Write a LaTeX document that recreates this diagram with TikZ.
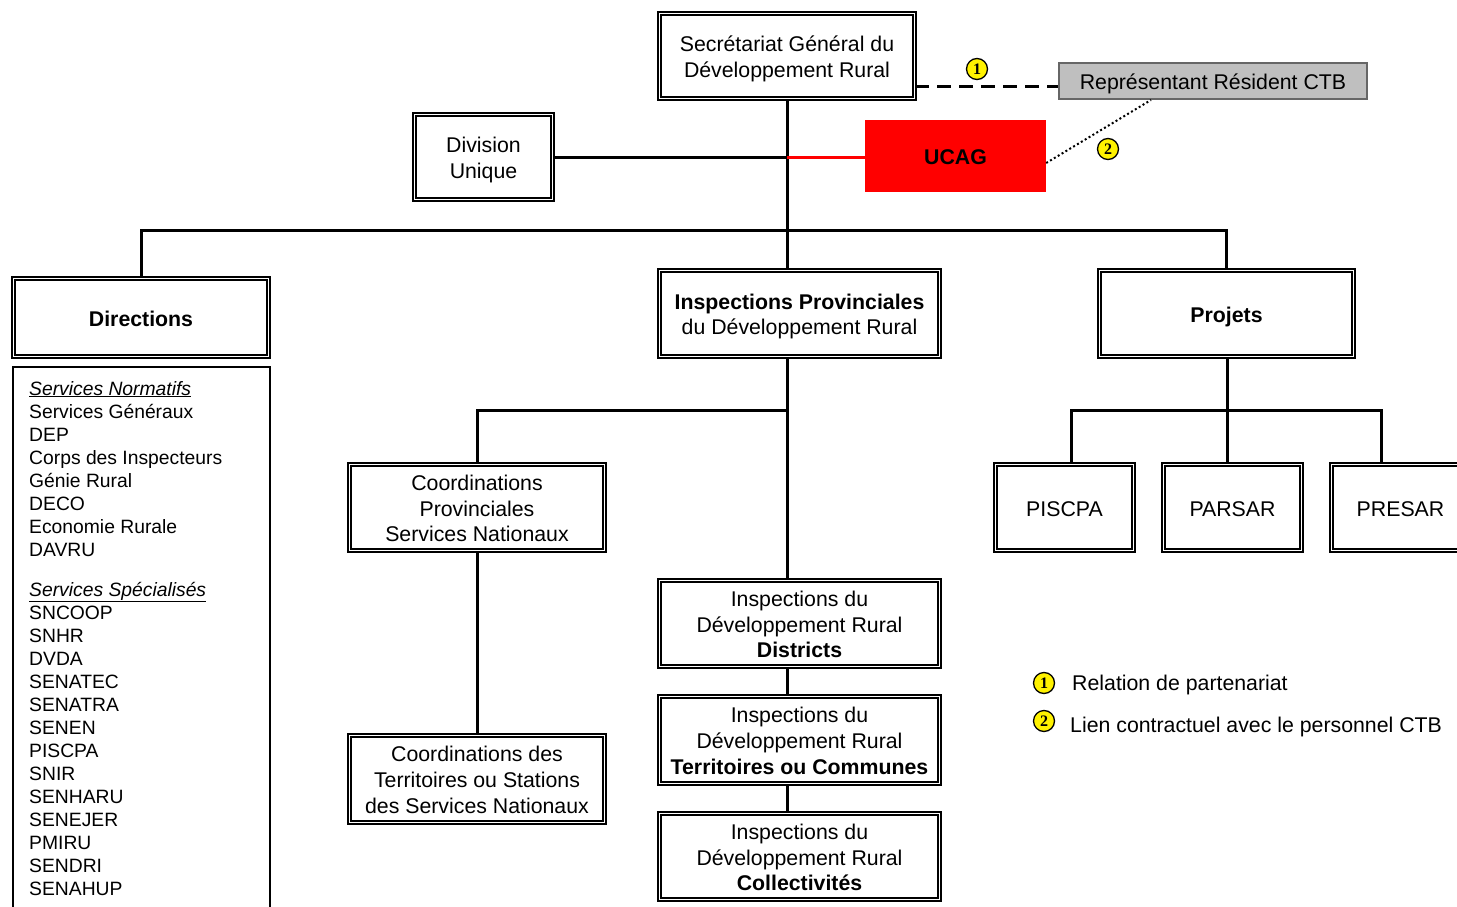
\documentclass[tikz,border=0pt]{standalone}
\usepackage{fontspec}
\usetikzlibrary{calc}
\setmainfont{Liberation Sans}
\newfontfamily\numfont{Liberation Serif}
\newcommand\ml[1]{\raisebox{-3.5pt}[\height][\depth]{\begin{tabular}{@{}c@{}}#1\end{tabular}}}
\begin{document}
\begin{tikzpicture}[x=1pt,y=-1pt,
  font=\fontsize{21.3}{25.7}\selectfont,
  dbox/.style={draw, double=white, double distance=1.8pt, line width=1.6pt, inner sep=0pt},
  conn/.style={line width=3pt},
  num/.style={circle, draw, fill=yellow, line width=1.3pt, minimum size=21pt, inner sep=0pt, font=\numfont\bfseries\fontsize{16}{16}\selectfont},
  lst/.style={anchor=base west, inner sep=0pt, font=\fontsize{19.3}{23}\selectfont}]
\useasboundingbox (0,0) rectangle (1457,907);
% boxes
\node[dbox, minimum width=255pt, minimum height=85pt] (sg) at (787,56) {\ml{Secrétariat Général du\\Développement Rural}};
\node[draw=black!60, fill=black!25, line width=2pt, minimum width=308pt, minimum height=36pt, inner sep=0pt] (rep) at (1213,81) {\ml{Représentant Résident CTB}};
\node[fill=red, minimum width=181pt, minimum height=72pt, inner sep=0pt, font=\fontsize{21.3}{25.7}\selectfont\bfseries] (ucag) at (955.5,156) {\ml{UCAG}};
\node[dbox, minimum width=138pt, minimum height=85pt] (div) at (483.5,157) {\ml{Division\\Unique}};
\node[dbox, minimum width=255pt, minimum height=78pt, font=\fontsize{21.3}{25.7}\selectfont\bfseries] (dir) at (141,317.5) {\ml{Directions}};
\node[dbox, minimum width=280pt, minimum height=86pt] (ip) at (799.5,313.5) {\ml{\textbf{Inspections Provinciales}\\du Développement Rural}};
\node[dbox, minimum width=254pt, minimum height=86pt, font=\fontsize{21.3}{25.7}\selectfont\bfseries] (proj) at (1226.5,313.5) {\ml{Projets}};
\node[dbox, minimum width=255pt, minimum height=86pt] (cp) at (477,507.5) {\ml{Coordinations\\Provinciales\\Services Nationaux}};
\node[dbox, minimum width=255pt, minimum height=87pt] (ct) at (477,779) {\ml{Coordinations des\\Territoires ou Stations\\des Services Nationaux}};
\node[dbox, minimum width=280pt, minimum height=86pt] (dist) at (799.5,623.5) {\ml{Inspections du\\Développement Rural\\\textbf{Districts}}};
\node[dbox, minimum width=280pt, minimum height=87pt] (terr) at (799.5,740) {\ml{Inspections du\\Développement Rural\\\textbf{Territoires ou Communes}}};
\node[dbox, minimum width=280pt, minimum height=86pt] (coll) at (799.5,856.5) {\ml{Inspections du\\Développement Rural\\\textbf{Collectivités}}};
\node[dbox, minimum width=138pt, minimum height=86pt] (piscpa) at (1064.5,507.5) {\ml{PISCPA}};
\node[dbox, minimum width=138pt, minimum height=86pt] (parsar) at (1232.5,507.5) {\ml{PARSAR}};
\node[dbox, minimum width=138pt, minimum height=86pt] (presar) at (1400.5,507.5) {\ml{PRESAR}};
\node[draw, line width=2pt, minimum width=257pt, minimum height=563pt, inner sep=0pt] (lstbox) at (141,648.5) {};
% list
\foreach \t [count=\i] in {{\underline{\textit{Services Normatifs}}},Services Généraux,DEP,Corps des Inspecteurs,Génie Rural,DECO,Economie Rurale,DAVRU}
  \node[lst] (na\i) at (29,{395+23*(\i-1)}) {\t};
\foreach \t [count=\i] in {{\underline{\textit{Services Spécialisés}}},SNCOOP,SNHR,DVDA,SENATEC,SENATRA,SENEN,PISCPA,SNIR,SENHARU,SENEJER,PMIRU,SENDRI,SENAHUP}
  \node[lst] (nb\i) at (29,{596+23*(\i-1)}) {\t};
% connectors
\coordinate (j1) at (787,230);
\coordinate (j2) at (787,410);
\coordinate (j3) at (1227,410);
\draw[conn] (sg.south) -- (sg.south |- ip.north);
\draw[conn] (div.east) -- (div.east -| sg.south);
\draw[conn, red] (sg.south |- div.east) -- (ucag.west |- div.east);
\draw[conn] (dir.north) -- (dir.north |- j1) -- (proj.north |- j1) -- (proj.north);
\draw[conn] (j2 |- ip.south) -- (j2 |- dist.north);
\draw[conn] (j2) -- (cp.north |- j2) -- (cp.north);
\draw[conn] (cp.south) -- (ct.north);
\draw[conn] (j2 |- dist.south) -- (j2 |- terr.north);
\draw[conn] (j2 |- terr.south) -- (j2 |- coll.north);
\coordinate (p1) at (1071,410);
\coordinate (p3) at (1381,410);
\draw[conn] (j3 |- proj.south) -- (j3 |- parsar.north);
\draw[conn] (p1 |- piscpa.north) -- (p1) -- (p3) -- (p3 |- presar.north);
% relations
\coordinate (d1) at (sg.east |- 0,86.5);
\coordinate (d2) at (rep.west |- 0,86.5);
\draw[line width=3.5pt, dash pattern=on 14pt off 8pt] (d1) -- (d2);
\draw[line width=2pt, dash pattern=on 2pt off 2.5pt] ([yshift=-7pt]ucag.east) -- ($(rep.south west)!0.3!(rep.south east)$);
\node[num] (c1) at (977,69) {1};
\node[num] (c2) at (1108,149) {2};
% legend
\node[num] (l1) at (1044,683) {1};
\node[num] (l2) at (1044,721) {2};
\node[anchor=west, inner sep=0pt] (t1) at (1072,682) {\ml{Relation de partenariat}};
\node[anchor=west, inner sep=0pt] (t2) at (1070,724) {\ml{Lien contractuel avec le personnel CTB}};
\end{tikzpicture}
\end{document}
